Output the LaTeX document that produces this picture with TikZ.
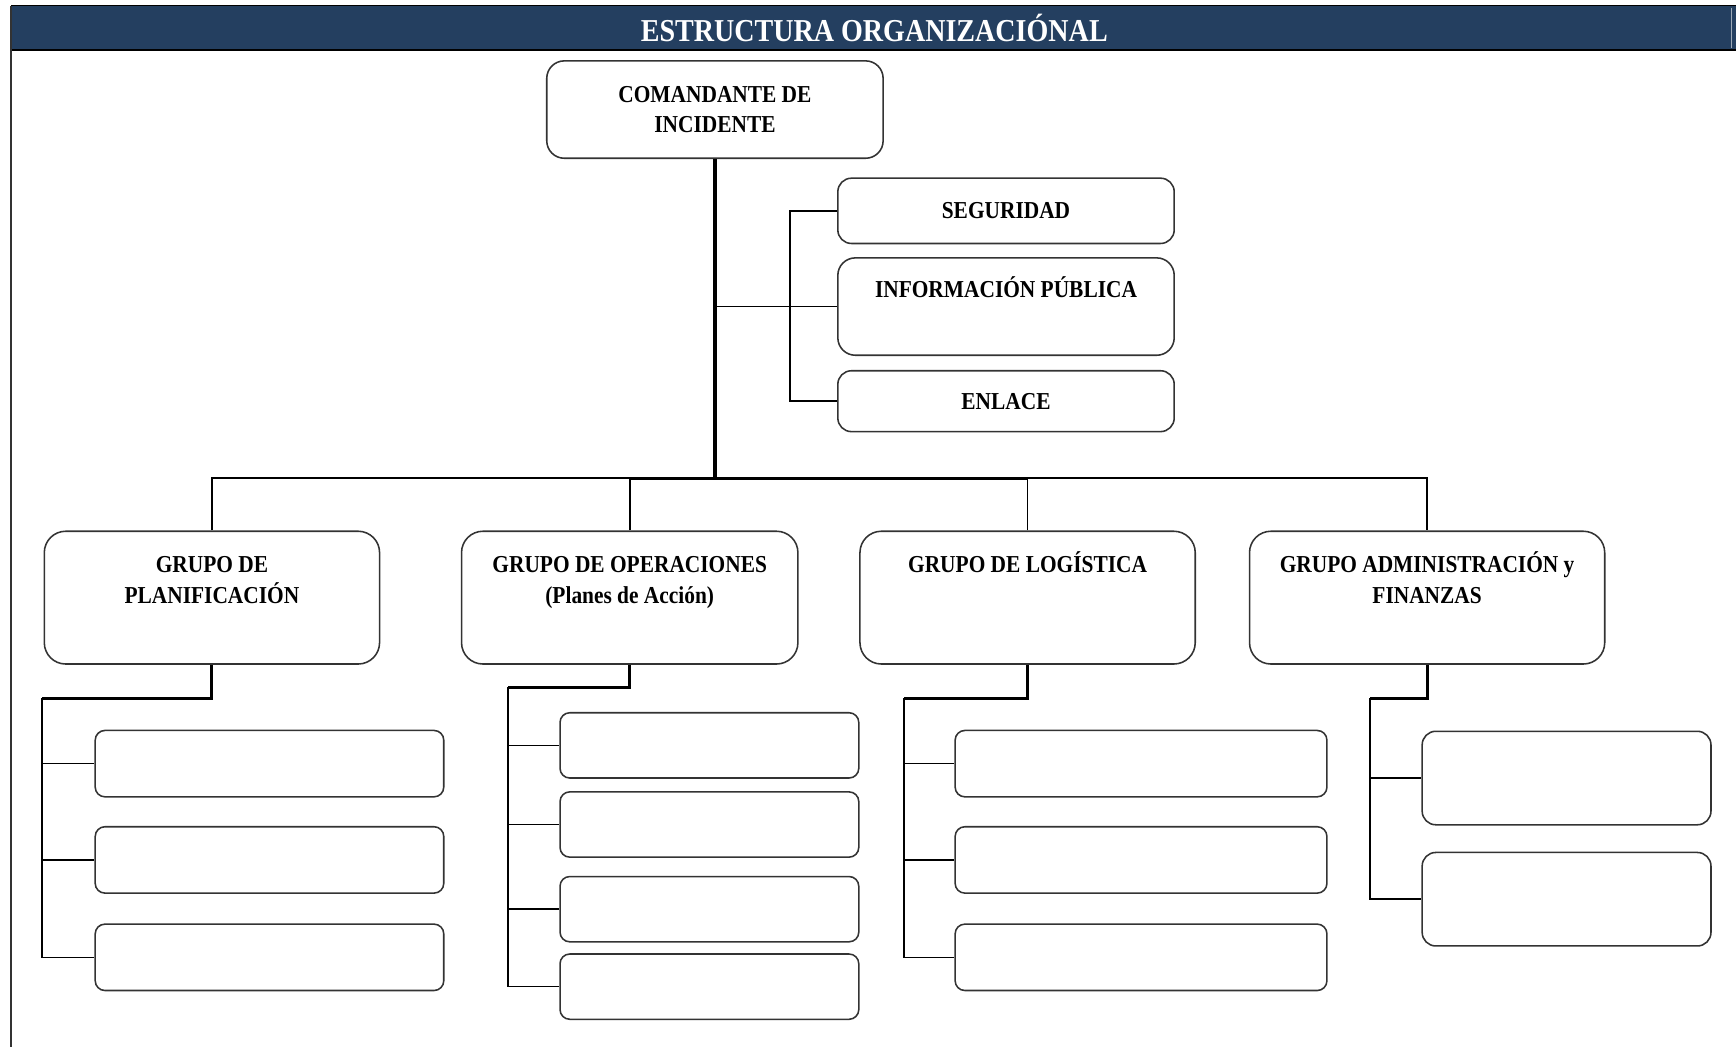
\documentclass[tikz,border=0pt]{standalone}
\usepackage{fontspec}
\setmainfont{Liberation Serif}[FakeStretch=0.88]
\usepackage{tikz}
\usetikzlibrary{positioning}
\definecolor{azulbanda}{HTML}{243F60}

\begin{document}
\begin{tikzpicture}[x=0.02cm, y=-0.02cm]

% Estilos de cajas y lineas
\tikzstyle{caja}=[draw=black!80, line width=0.8pt, rounded corners=7pt, inner sep=0pt, font=\fontsize{12.5}{15}\selectfont\bfseries, align=center]
\tikzstyle{grupo}=[caja, rounded corners=11pt, minimum height=2.4cm]
\tikzstyle{sub}=[caja, rounded corners=5pt]
\tikzstyle{texto}=[inner sep=0pt, font=\fontsize{12.5}{16}\selectfont\bfseries, align=center]
\tikzstyle{linea}=[line width=0.8pt]
\tikzstyle{gruesa}=[line width=1.6pt]

\useasboundingbox (0,0) rectangle (1568.6,946);

% Banda del titulo y marco
\fill[azulbanda] (10,5) rectangle (1568.6,45);
\draw[linea] (10,5) -- (1568.6,5);
\draw[linea] (10,45) -- (1568.6,45);
\draw[white!55!azulbanda] (1564,7) -- (1564,43);
\draw[linea, black!80] (10,5) -- (10,946);
\node[font=\fontsize{16.4}{20}\selectfont\bfseries, text=white] (titulo) at (790,25) {ESTRUCTURA ORGANIZACIÓNAL};

% Mando y staff
\node[caja, rounded corners=9pt, minimum width=6.08cm, minimum height=1.76cm] (comandante) at (646,99) {COMANDANTE DE\\INCIDENTE};
\node[caja, minimum width=6.08cm, minimum height=1.18cm] (seguridad) at (909,190.5) {SEGURIDAD};
\node[caja, rounded corners=9pt, minimum width=6.08cm, minimum height=1.76cm] (informacion) at (909,277) {};
\node[texto, below=0.34cm of informacion.north] (tinformacion) {INFORMACIÓN PÚBLICA};
\node[caja, minimum width=6.08cm, minimum height=1.1cm] (enlace) at (909,362.5) {ENLACE};

% Grupos
\node[grupo, minimum width=6.06cm] (plan) at (191.5,540) {};
\node[grupo, minimum width=6.08cm] (oper) at (569,540) {};
\node[grupo, minimum width=6.06cm] (log) at (928.5,540) {};
\node[grupo, minimum width=6.42cm] (admin) at (1289.5,540) {};
\node[texto, below=0.46cm of plan.north] (tplan) {GRUPO DE\\PLANIFICACIÓN};
\node[texto, below=0.46cm of oper.north] (toper) {GRUPO DE OPERACIONES\\(Planes de Acción)};
\node[texto, below=0.38cm of log.north] (tlog) {GRUPO DE LOGÍSTICA};
\node[texto, below=0.38cm of admin.north] (tadmin) {GRUPO ADMINISTRACIÓN y\\FINANZAS};

% Cajas vacias bajo cada grupo
\foreach \i/\y in {1/690,2/777,3/865}
  \node[sub, minimum width=6.3cm, minimum height=1.2cm] (p\i) at (243.5,\y) {};
\foreach \i/\y in {1/673.5,2/745,3/821.5,4/891.5}
  \node[sub, minimum width=5.4cm, minimum height=1.18cm] (o\i) at (641,\y) {};
\foreach \i/\y in {1/690,2/777,3/865}
  \node[sub, minimum width=6.72cm, minimum height=1.2cm] (l\i) at (1031,\y) {};
\foreach \i/\y in {1/703,2/812.5}
  \node[sub, rounded corners=7pt, minimum width=5.22cm, minimum height=1.69cm] (a\i) at (1415.5,\y) {};

% Conexiones del mando
\coordinate (bus) at (646,432);
\coordinate (staff) at (714,191);
\draw[gruesa] (comandante.south) -- (bus);
\draw[linea] (seguridad.west) -- (staff |- seguridad.west) |- (enlace.west);
\draw[linea] (comandante.south |- informacion.west) -- (informacion.west);
\draw[linea] (plan.north) |- (admin.north |- bus) -- (admin.north);
\draw[linea] (oper.north) -- (oper.north |- bus);
\draw[linea] (log.north) -- (log.north |- bus);
\draw[gruesa] (oper.north |- bus) -- (log.north |- bus);

% Conexiones de los grupos
\coordinate (bplan) at (38,631);
\coordinate (boper) at (459,621);
\coordinate (blog) at (817,631);
\coordinate (badmin) at (1238,631);
\draw[gruesa] (plan.south) |- (bplan);
\draw[linea] (bplan) |- (p3.west);
\foreach \i in {1,2} \draw[linea] (bplan |- p\i.west) -- (p\i.west);
\draw[gruesa] (oper.south) |- (boper);
\draw[linea] (boper) |- (o4.west);
\foreach \i in {1,2,3} \draw[linea] (boper |- o\i.west) -- (o\i.west);
\draw[gruesa] (log.south) |- (blog);
\draw[linea] (blog) |- (l3.west);
\foreach \i in {1,2} \draw[linea] (blog |- l\i.west) -- (l\i.west);
\draw[gruesa] (admin.south) |- (badmin);
\draw[linea] (badmin) |- (a2.west);
\draw[linea] (badmin |- a1.west) -- (a1.west);

\end{tikzpicture}
\end{document}
